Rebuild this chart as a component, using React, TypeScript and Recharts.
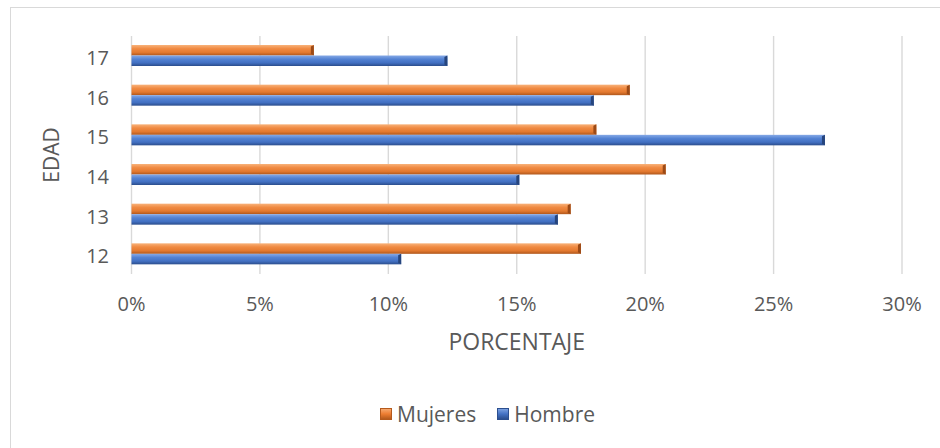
import { BarChart, Bar, XAxis, YAxis, CartesianGrid, Legend } from 'recharts';

const categories = ['12', '13', '14', '15', '16', '17'];
const mujeres = [17.5, 17.1, 20.8, 18.1, 19.4, 7.1];
const hombre = [10.5, 16.6, 15.1, 27.0, 18.0, 12.3];
const xTicks = [0, 5, 10, 15, 20, 25, 30];

const data = categories.map((edad, i) => ({
	edad,
	Mujeres: mujeres[i],
	Hombre: hombre[i],
}));

const FONT = '"Open Sans", sans-serif';
const TEXT = '#595959';

// bar with a small bevel look like the office chart
function BevelBar(props: any) {
	const { x, y, width, height, gradId, dark } = props;
	if (!width || width <= 0) return null;
	const b = Math.min(3, width);
	return (
		<g>
			<rect x={x} y={y} width={width} height={height} fill={`url(#${gradId})`} />
			<polygon
				points={`${x + width - b},${y + 1.5} ${x + width},${y} ${x + width},${y + height} ${x + width - b},${y + height - 1.5}`}
				fill={dark}
			/>
		</g>
	);
}

function LegendBox() {
	const items = [
		{ name: 'Mujeres', light: '#f6a86e', base: '#ed7d31', dark: '#b55a1c' },
		{ name: 'Hombre', light: '#7aa0e0', base: '#4472c4', dark: '#2c4f8f' },
	];
	return (
		<div style={{ display: 'flex', alignItems: 'center', fontFamily: FONT, fontSize: 21, color: TEXT }}>
			{items.map((it) => (
				<div key={it.name} style={{ display: 'flex', alignItems: 'center', marginRight: 21 }}>
					<span style={{
						display: 'inline-block',
						flexShrink: 0,
						width: 12,
						height: 12,
						marginRight: 5,
						boxSizing: 'border-box',
						border: `1px solid ${it.dark}`,
						background: `linear-gradient(180deg, ${it.light}, ${it.base} 50%, ${it.dark})`,
					}} />
					<span>{it.name}</span>
				</div>
			))}
		</div>
	);
}

export default function App() {
	return (
		<div style={{ position: 'absolute', left: 0, top: 0, width: 940, height: 448, background: '#fff' }}>
			<div style={{
				position: 'absolute', left: 10, top: 7, width: 960, height: 460,
				border: '1.5px solid #d9d9d9', boxSizing: 'border-box'
			}} />
			<BarChart
				width={940}
				height={448}
				data={data}
				layout="vertical"
				barGap={0}
				margin={{ top: 36, right: 38, left: 20, bottom: 134 }}
				style={{ position: 'absolute', left: 0, top: 0 }}
			>
				<defs>
					<linearGradient id="gMuj" x1="0" y1="0" x2="0" y2="1">
						<stop offset="0%" stopColor="#f8b27a" />
						<stop offset="35%" stopColor="#f08a42" />
						<stop offset="70%" stopColor="#e47a30" />
						<stop offset="100%" stopColor="#b0571c" />
					</linearGradient>
					<linearGradient id="gHom" x1="0" y1="0" x2="0" y2="1">
						<stop offset="0%" stopColor="#86a9e6" />
						<stop offset="35%" stopColor="#5382d3" />
						<stop offset="70%" stopColor="#4270c2" />
						<stop offset="100%" stopColor="#2b4d8c" />
					</linearGradient>
				</defs>
				<CartesianGrid horizontal={false} stroke="#d9d9d9" strokeWidth={1.4} />
				<XAxis
					type="number"
					domain={[0, 30]}
					ticks={xTicks}
					tickFormatter={(v) => `${v}%`}
					axisLine={false}
					tickLine={false}
					tickMargin={17}
					height={40}
					tick={{ fill: TEXT, fontSize: 20, fontFamily: FONT }}
					label={{ value: 'PORCENTAJE', position: 'bottom', offset: 20, fill: TEXT, fontSize: 23, fontFamily: FONT }}
				/>
				<YAxis
					type="category"
					dataKey="edad"
					reversed
					width={111.5}
					axisLine={false}
					tickLine={false}
					tickMargin={16.5}
					tick={{ fill: TEXT, fontSize: 20, fontFamily: FONT, dy: 2 }}
					label={{ value: 'EDAD', angle: -90, position: 'insideLeft', offset: 32, fill: TEXT, fontSize: 21, fontFamily: FONT, style: { textAnchor: 'middle' } }}
				/>
				<Legend
					verticalAlign="middle"
					align="center"
					layout="horizontal"
					content={() => <LegendBox />}
					wrapperStyle={{ left: 380, top: 400, width: 'auto' }}
				/>
				<Bar
					dataKey="Mujeres"
					barSize={10.5}
					fill="#ed7d31"
					isAnimationActive={false}
					shape={(p: any) => <BevelBar {...p} gradId="gMuj" dark="#9c4a16" />}
				/>
				<Bar
					dataKey="Hombre"
					barSize={10.5}
					fill="#4472c4"
					isAnimationActive={false}
					shape={(p: any) => <BevelBar {...p} gradId="gHom" dark="#26457d" />}
				/>
			</BarChart>
		</div>
	);
}
